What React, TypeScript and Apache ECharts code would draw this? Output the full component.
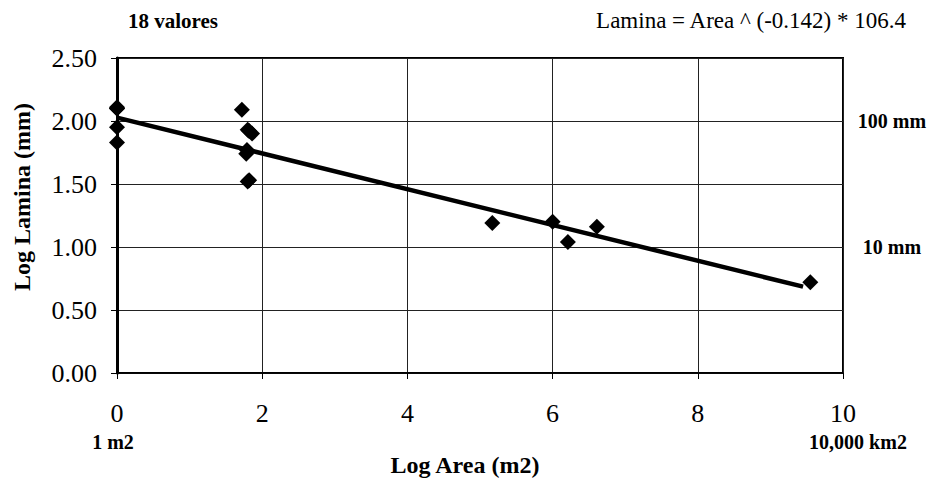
import React, { useEffect, useRef } from "react";
import * as echarts from "echarts";

const logArea = [0, 0, 0, 0, 1.72, 1.8, 1.86, 1.82, 1.79, 1.78, 1.8, 1.82, 5.17, 6.0, 6.21, 6.61, 9.55, 0];
const logLamina = [2.1, 2.11, 1.95, 1.83, 2.09, 1.93, 1.9, 1.92, 1.77, 1.74, 1.52, 1.53, 1.19, 1.2, 1.04, 1.16, 0.72, 2.1];
const fitCoef = 106.4;
const fitExp = -0.142;
const fitRange = [0, 9.45];
const xTicks = [0, 2, 4, 6, 8, 10];
const yTicks = [0, 0.5, 1, 1.5, 2, 2.5];
const rightLabels: Record<string, string> = { "1": "10 mm", "2": "100 mm" };

const FONT = "'Liberation Serif', 'Times New Roman', serif";

export default function App() {
  const ref = useRef<HTMLDivElement>(null);
  useEffect(() => {
    if (!ref.current) return;
    const chart = echarts.init(ref.current, null, { renderer: "svg" });
    const points = logArea.map((x, i) => [x, logLamina[i]]);
    const fit = fitRange.map((x) => [x, Math.log10(fitCoef) + fitExp * x]);
    chart.setOption({
      animation: false,
      backgroundColor: "#ffffff",
      textStyle: { fontFamily: FONT },
      grid: {
        left: 117,
        right: 88,
        top: 58,
        bottom: 107,
        show: true,
        borderColor: "#000",
        borderWidth: 2,
        outerBoundsMode: "none",
        containLabel: false,
      },
      xAxis: {
        type: "value",
        min: xTicks[0],
        max: xTicks[xTicks.length - 1],
        interval: 2,
        name: "Log Area (m2)",
        nameLocation: "middle",
        nameGap: 80,
        nameTextStyle: { fontFamily: FONT, fontWeight: "bold", fontSize: 24, color: "#000", padding: [0, 30, 0, 0] },
        axisLine: { show: true, onZero: false, lineStyle: { color: "#000", width: 1.5 } },
        axisTick: { show: true, length: 6, lineStyle: { color: "#000" } },
        axisLabel: { fontFamily: FONT, fontSize: 26, color: "#000", margin: 27 },
        splitLine: { show: true, lineStyle: { color: "#222", width: 1 } },
      },
      yAxis: [
        {
          type: "value",
          min: yTicks[0],
          max: yTicks[yTicks.length - 1],
          interval: 0.5,
          axisLine: { show: true, onZero: false, lineStyle: { color: "#000", width: 3 } },
          axisTick: { show: true, length: 6, lineStyle: { color: "#000" } },
          axisLabel: { fontFamily: FONT, fontSize: 26, color: "#000", margin: 20, formatter: (v: number) => v.toFixed(2) },
          splitLine: { show: true, lineStyle: { color: "#222", width: 1 } },
        },
        {
          type: "value",
          position: "right",
          min: yTicks[0],
          max: yTicks[yTicks.length - 1],
          interval: 0.5,
          axisLine: { show: false },
          axisTick: { show: false },
          splitLine: { show: false },
          axisLabel: {
            fontFamily: FONT,
            fontSize: 20,
            fontWeight: "bold",
            color: "#000",
            margin: 49,
            align: "center",
            formatter: (v: number) => rightLabels[String(v)] || "",
          },
        },
      ],
      graphic: [
        {
          type: "text",
          x: 22,
          y: 197,
          rotation: Math.PI / 2,
          style: { text: "Log Lamina (mm)", font: `bold 24px ${FONT}`, fill: "#000", align: "center", verticalAlign: "middle" },
        },
        { type: "text", x: 128, y: 21, style: { text: "18 valores", font: `bold 21px ${FONT}`, fill: "#000", verticalAlign: "middle" } },
        {
          type: "text",
          x: 906,
          y: 20,
          style: { text: "Lamina = Area ^ (-0.142) * 106.4", font: `23px ${FONT}`, fill: "#000", align: "right", verticalAlign: "middle" },
        },
        { type: "text", x: 113, y: 442, style: { text: "1 m2", font: `bold 20px ${FONT}`, fill: "#000", align: "center", verticalAlign: "middle" } },
        { type: "text", x: 858, y: 442, style: { text: "10,000 km2", font: `bold 20px ${FONT}`, fill: "#000", align: "center", verticalAlign: "middle" } },
      ],
      series: [
        {
          type: "line",
          data: fit,
          showSymbol: false,
          lineStyle: { color: "#000", width: 4.5 },
          z: 3,
        },
        {
          type: "scatter",
          data: points,
          symbol: "diamond",
          symbolSize: 16,
          clip: false,
          itemStyle: { color: "#000", opacity: 1 },
          z: 4,
        },
      ],
    });
    return () => chart.dispose();
  }, []);
  return <div ref={ref} style={{ width: 931, height: 480, position: "absolute", left: 0, top: 0 }} />;
}
